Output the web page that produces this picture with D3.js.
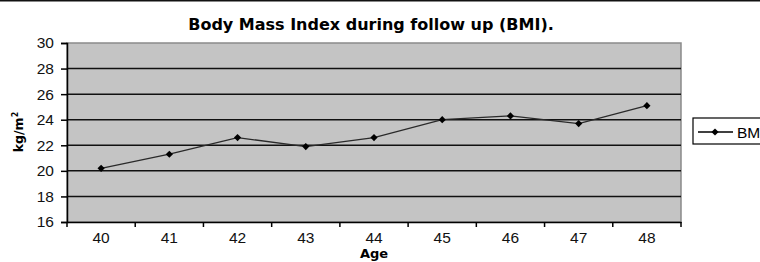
<!DOCTYPE html>
<html>
<head>
<meta charset="utf-8">
<script src="https://cdn.jsdelivr.net/npm/d3@7"></script>
<style>
	body { margin: 0; background: #fff; }
	svg { display: block; }
	.tick text { font-family: "Liberation Sans", Arial, sans-serif; font-size: 15.5px; fill: #111; }
</style>
</head>
<body>
<div id="chart"></div>
<script>
// chart data
var ages = ['40', '41', '42', '43', '44', '45', '46', '47', '48'];
var bmi = [20.2, 21.3, 22.6, 21.9, 22.6, 24.0, 24.3, 23.7, 25.1];
var yTicks = [16, 18, 20, 22, 24, 26, 28, 30];
var seriesName = 'BMI';

var W = 760, H = 262;
var margin = { top: 43, right: 79, bottom: 40, left: 67 };
var width = W - margin.left - margin.right;
var height = H - margin.top - margin.bottom;

var svg = d3.select('#chart').append('svg')
	.attr('width', W)
	.attr('height', H);

// top border line
svg.append('rect')
	.attr('x', 0).attr('y', 0)
	.attr('width', W).attr('height', 1.5)
	.attr('fill', '#111');

svg.append('text')
	.attr('x', 371).attr('y', 30)
	.attr('text-anchor', 'middle')
	.style('font-family', '"DejaVu Sans", Verdana, sans-serif')
	.style('font-weight', 'bold')
	.style('font-size', '16px')
	.text('Body Mass Index during follow up (BMI).');

var g = svg.append('g')
	.attr('transform', 'translate(' + margin.left + ',' + margin.top + ')');

var x = d3.scaleBand().domain(ages).range([0, width]);
var y = d3.scaleLinear().domain([16, 30]).range([height, 0]);

g.append('rect')
	.attr('width', width).attr('height', height)
	.attr('fill', '#c4c4c4')
	.attr('stroke', '#8a8a8a')
	.attr('stroke-width', 1.5);

g.selectAll('.grid')
	.data(yTicks.filter(function(d) { return d > 16 && d < 30; }))
	.enter().append('line')
	.attr('x1', 0).attr('x2', width)
	.attr('y1', function(d) { return y(d); })
	.attr('y2', function(d) { return y(d); })
	.attr('stroke', '#111')
	.attr('stroke-width', 1.5);

var yAxis = g.append('g')
	.call(d3.axisLeft(y).tickValues(yTicks).tickSize(6).tickPadding(7));
yAxis.select('.domain').attr('stroke', '#000').attr('stroke-width', 1.5);
yAxis.selectAll('.tick line').attr('stroke', '#000').attr('stroke-width', 1.5);

var xAxis = g.append('g')
	.attr('transform', 'translate(0,' + height + ')')
	.call(d3.axisBottom(x).tickSize(0).tickPadding(10));
xAxis.select('.domain').attr('stroke', '#000').attr('stroke-width', 1.5);

// category separators on the x axis
xAxis.selectAll('.sep')
	.data(d3.range(ages.length + 1))
	.enter().append('line')
	.attr('x1', function(i) { return i * x.step(); })
	.attr('x2', function(i) { return i * x.step(); })
	.attr('y1', 0).attr('y2', 5)
	.attr('stroke', '#000')
	.attr('stroke-width', 1.5);

svg.append('text')
	.attr('x', margin.left + width / 2).attr('y', 258)
	.attr('text-anchor', 'middle')
	.style('font-family', '"DejaVu Sans", Verdana, sans-serif')
	.style('font-weight', 'bold')
	.style('font-size', '13px')
	.text('Age');

var yl = svg.append('text')
	.attr('transform', 'translate(23,' + (margin.top + 89) + ') rotate(-90)')
	.attr('text-anchor', 'middle')
	.style('font-family', '"DejaVu Sans", Verdana, sans-serif')
	.style('font-weight', 'bold')
	.style('font-size', '12.5px');
yl.append('tspan').text('kg/m');
yl.append('tspan').attr('dy', -5).style('font-size', '8px').text('2');

var line = d3.line()
	.x(function(d, i) { return x(ages[i]) + x.bandwidth() / 2; })
	.y(function(d) { return y(d); });

g.append('path')
	.datum(bmi)
	.attr('d', line)
	.attr('fill', 'none')
	.attr('stroke', '#2a2a2a')
	.attr('stroke-width', 1.3);

var diamond = d3.symbol().type(d3.symbolSquare).size(26);

g.selectAll('.pt')
	.data(bmi)
	.enter().append('path')
	.attr('d', diamond)
	.attr('transform', function(d, i) {
		return 'translate(' + (x(ages[i]) + x.bandwidth() / 2) + ',' + y(d) + ') rotate(45)';
	})
	.attr('fill', '#000');

// legend
var lg = svg.append('g').attr('transform', 'translate(693,118)');
lg.append('rect')
	.attr('width', 80).attr('height', 26)
	.attr('fill', '#fff')
	.attr('stroke', '#000')
	.attr('stroke-width', 1.2);
lg.append('line')
	.attr('x1', 5).attr('x2', 40)
	.attr('y1', 14).attr('y2', 14)
	.attr('stroke', '#000').attr('stroke-width', 1.3);
lg.append('path')
	.attr('d', diamond)
	.attr('transform', 'translate(22,14) rotate(45)')
	.attr('fill', '#000');
lg.append('text')
	.attr('x', 44).attr('y', 19.5)
	.style('font-family', '"Liberation Sans", Arial, sans-serif')
	.style('font-size', '15.5px')
	.text(seriesName);
</script>
</body>
</html>
